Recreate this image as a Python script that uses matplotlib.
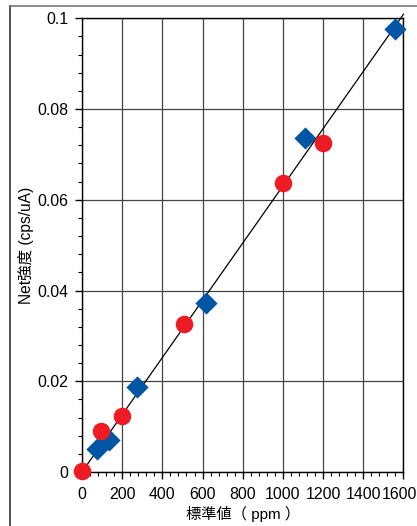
import numpy as np
import matplotlib
matplotlib.use('Agg')
from matplotlib import pyplot as plt
from matplotlib.ticker import MultipleLocator, FuncFormatter
from matplotlib.lines import Line2D
from matplotlib.transforms import ScaledTranslation

plt.rcParams['font.family'] = ['Liberation Sans', 'Noto Sans CJK JP', 'DejaVu Sans']

# standard value (ppm) vs net intensity (cps/uA)
red_x = [0, 95, 200, 507, 1000, 1200]
red_y = [0.0003, 0.0091, 0.0124, 0.0326, 0.0637, 0.0725]
blue_x = [73, 134, 272, 617, 1109, 1557]
blue_y = [0.0050, 0.0070, 0.0187, 0.0372, 0.0737, 0.0977]

x_ticks = [0, 200, 400, 600, 800, 1000, 1200, 1400, 1600]
y_ticks = [0, 0.02, 0.04, 0.06, 0.08, 0.1]
x_label = '標準値（ ppm ）'
y_label = 'Net強度 (cps/uA)'

red_col = '#ED1C24'
blue_col = '#0055A5'

fig = plt.figure(figsize=(4.17, 5.26), dpi=100)
ax = fig.add_axes([0.1966, 0.1027, 0.7710, 0.8625])

# calibration line through origin, least squares over all points
all_x = np.array(red_x + blue_x, dtype=float)
all_y = np.array(red_y + blue_y, dtype=float)
slope = np.sum(all_x * all_y) / np.sum(all_x ** 2)
fx = np.array([0, 1600.0])
ax.plot(fx, slope * fx, color='black', lw=0.9, zorder=3, clip_on=False)

ax.scatter(blue_x, blue_y, marker='D', s=128, color=blue_col, linewidths=0, zorder=4, clip_on=False)
ax.scatter(red_x, red_y, marker='o', s=160, color=red_col, linewidths=0, zorder=5, clip_on=False)

ax.set_xlim(0, 1600)
ax.set_ylim(0, 0.1)
ax.set_xticks(x_ticks)
ax.set_yticks(y_ticks)
ax.xaxis.set_minor_locator(MultipleLocator(40))
ax.yaxis.set_minor_locator(MultipleLocator(0.004))
ax.yaxis.set_major_formatter(FuncFormatter(lambda v, p: f'{v:g}'))
ax.tick_params(which='major', direction='out', length=5, width=1, labelsize=11.4, color='black')
ax.tick_params(axis='y', which='major', pad=5)
ax.tick_params(axis='x', which='major', pad=5.5)
ax.tick_params(which='minor', direction='out', length=3, width=0.8, color='black')

ax.grid(True, which='major', color='#444444', lw=0.9, zorder=1)
ax.set_axisbelow(True)
for s in ax.spines.values():
    s.set_linewidth(1.0)
    s.set_color('black')

ax.set_xlabel(x_label, fontsize=11, labelpad=3)
ax.set_ylabel(y_label, fontsize=11.2, labelpad=2)

# pull the last x label in so it stays inside the figure
fig.canvas.draw()
last = ax.get_xticklabels()[-1]
last.set_transform(last.get_transform() + ScaledTranslation(-4 / 100, 0, fig.dpi_scale_trans))

# frame around the figure
fig.add_artist(Line2D([9.5 / 417, 9.5 / 417], [0, 1 - 6 / 526], color='#333333', lw=1.2))
fig.add_artist(Line2D([9.5 / 417, 1], [1 - 6 / 526, 1 - 6 / 526], color='#777777', lw=1.2))

fig.savefig('out.png', dpi=100)
